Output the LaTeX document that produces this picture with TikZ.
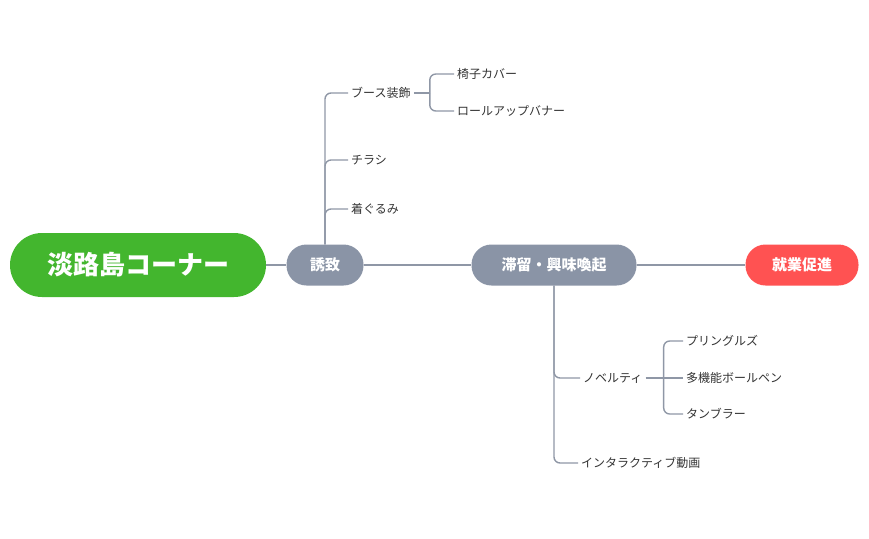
\documentclass[tikz,border=0pt]{standalone}
\usepackage{fontspec}
\setmainfont{Noto Sans CJK JP}
\definecolor{rootgreen}{HTML}{43B62E}
\definecolor{topicgray}{HTML}{8A94A6}
\definecolor{goalred}{HTML}{FF5252}
\definecolor{linkgray}{HTML}{8F97A6}
\definecolor{leaftext}{HTML}{333333}
\tikzset{
  topic/.style={rounded corners=20pt, fill=topicgray, text=white, font=\bfseries\fontsize{15}{18}\selectfont, minimum height=41pt, inner xsep=12pt},
  leaf/.style={text=leaftext, font=\fontsize{12}{14}\selectfont, inner xsep=3pt, anchor=west},
  link/.style={draw=linkgray, line width=1.4pt, rounded corners=6pt}
}
\begin{document}
\begin{tikzpicture}[x=1pt, y=-1pt]
  \useasboundingbox (0,0) rectangle (869,538);

  \node[rounded corners=32pt, fill=rootgreen, text=white, font=\bfseries\fontsize{26}{30}\selectfont, minimum width=256pt, minimum height=64pt] (root) at (138,265) {淡路島コーナー};
  \node[topic, minimum width=77pt] (yuchi) at (325,265) {誘致};
  \node[topic, minimum width=165pt] (stay) at (554,265) {滞留・興味喚起};
  \node[topic, fill=goalred, minimum width=113pt] (goal) at (802,265) {就業促進};

  \draw[link] (root) -- (yuchi);
  \draw[link] (yuchi) -- (stay);
  \draw[link] (stay) -- (goal);

  % 誘致
  \node[leaf] (booth) at (348,93) {ブース装飾};
  \node[leaf] (flyer) at (348,160) {チラシ};
  \node[leaf] (mascot) at (348,209) {着ぐるみ};
  \draw[link] (yuchi.north) |- (booth.west);
  \draw[link] (yuchi.north) |- (flyer.west);
  \draw[link] (yuchi.north) |- (mascot.west);

  \node[leaf] (chair) at (454,74) {椅子カバー};
  \node[leaf] (banner) at (454,111) {ロールアップバナー};
  \draw[link] (booth.east) -- ++(16,0) coordinate (bb);
  \draw[link] (bb) |- (chair.west);
  \draw[link] (bb) |- (banner.west);

  % 滞留・興味喚起
  \node[leaf] (novelty) at (580,378) {ノベルティ};
  \node[leaf] (movie) at (578,463) {インタラクティブ動画};
  \draw[link] (stay.south) |- (novelty.west);
  \draw[link] (stay.south) |- (movie.west);

  \node[leaf] (pringles) at (683,341) {プリングルズ};
  \node[leaf] (pen) at (683,378) {多機能ボールペン};
  \node[leaf] (tumbler) at (683,414) {タンブラー};
  \draw[link] (novelty.east) -- ++(18,0) coordinate (nb);
  \draw[link] (nb) |- (pringles.west);
  \draw[link] (nb) -- (pen.west);
  \draw[link] (nb) |- (tumbler.west);
\end{tikzpicture}
\end{document}
